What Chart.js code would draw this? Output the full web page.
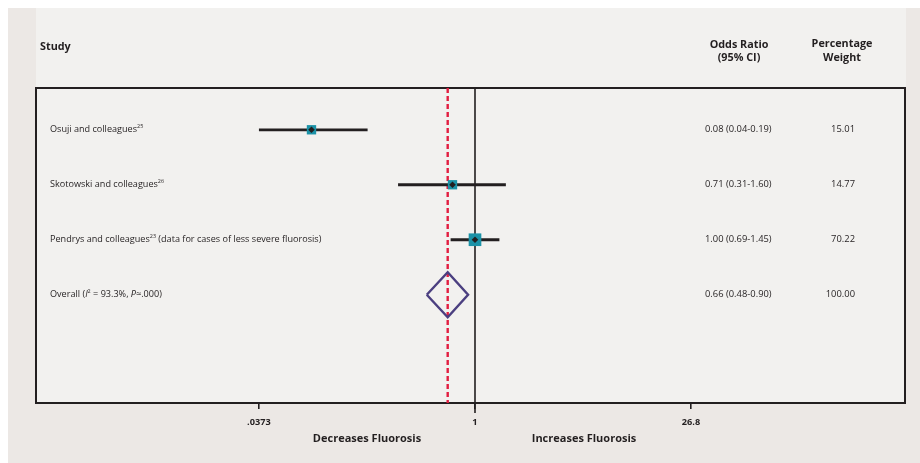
<!DOCTYPE html>
<html>
<head>
<meta charset="utf-8">
<script src="https://cdn.jsdelivr.net/npm/chart.js@4.4.1/dist/chart.umd.min.js"></script>
<style>
  html, body { margin: 0; padding: 0; background: #ffffff; }
  #wrap { width: 920px; height: 463px; }
</style>
</head>
<body>
<div id="wrap"><canvas id="chart" width="920" height="463"></canvas></div>
<script>
// study rows, top to bottom
const studies = ["Osuji and colleagues", "Skotowski and colleagues", "Pendrys and colleagues"];
const studyRefs = ["25", "26", "23"];
const studyNotes = ["", "", " (data for cases of less severe fluorosis)"];
const oddsRatio = [0.083, 0.71, 1.0];
const ciLow = [0.0373, 0.31, 0.69];
const ciHigh = [0.195, 1.6, 1.45];
const orText = ["0.08 (0.04-0.19)", "0.71 (0.31-1.60)", "1.00 (0.69-1.45)"];
const weights = ["15.01", "14.77", "70.22"];

// pooled estimate
const overallOR = 0.66;
const overallLow = 0.48;
const overallHigh = 0.9;
const overallText = "0.66 (0.48-0.90)";
const overallWeight = "100.00";

// x axis ticks
const tickValues = [0.0373, 1, 26.8];
const tickLabels = [".0373", "1", "26.8"];

const INK = "#231f20";
const FONT = "'Open Sans', 'Noto Sans', sans-serif";
const overallRow = studies.length;
const yTop = -0.76, yBottom = 4.97;

const datasets = [];

// black dot in the middle of each square
datasets.push({
  type: "scatter",
  data: oddsRatio.map((v, i) => ({ x: v, y: i })),
  pointStyle: "rectRot",
  pointRadius: 3.3,
  backgroundColor: INK,
  borderWidth: 0,
  order: 0
});

// weighted squares
datasets.push({
  type: "scatter",
  data: oddsRatio.map((v, i) => ({ x: v, y: i })),
  pointStyle: "rect",
  pointRadius: weights.map(w => 4.6 + Math.sqrt(parseFloat(w)) * 0.52),
  backgroundColor: "#1b92a7",
  borderWidth: 0,
  order: 1
});

// confidence intervals
studies.forEach((s, i) => {
  datasets.push({
    type: "line",
    data: [{ x: ciLow[i], y: i }, { x: ciHigh[i], y: i }],
    borderColor: INK,
    borderWidth: 2.8,
    pointRadius: 0,
    order: 2
  });
});

// pooled diamond
datasets.push({
  type: "line",
  data: [
    { x: overallLow, y: overallRow },
    { x: overallOR, y: overallRow - 0.41 },
    { x: overallHigh, y: overallRow },
    { x: overallOR, y: overallRow + 0.41 },
    { x: overallLow, y: overallRow }
  ],
  borderColor: "#4b3f80",
  borderWidth: 2.4,
  pointRadius: 0,
  fill: false,
  order: 3
});

// line of no effect
datasets.push({
  type: "line",
  data: [{ x: 1, y: yTop }, { x: 1, y: yBottom + 0.18 }],
  borderColor: INK,
  borderWidth: 1.6,
  pointRadius: 0,
  clip: false,
  order: 5
});

// pooled estimate line (dashed)
datasets.push({
  type: "line",
  data: [{ x: overallOR, y: yTop }, { x: overallOR, y: yBottom }],
  borderColor: "#e21d40",
  borderWidth: 2.4,
  borderDash: [5, 3],
  pointRadius: 0,
  order: 4
});

function drawParts(ctx, parts, x, y, size) {
  ctx.textBaseline = "middle";
  ctx.textAlign = "left";
  parts.forEach(p => {
    if (p.sup) {
      ctx.font = (size * 0.6) + "px " + FONT;
      ctx.fillText(p.t, x, y - size * 0.38);
    } else {
      ctx.font = (p.it ? "italic " : "") + size + "px " + FONT;
      ctx.fillText(p.t, x, y);
    }
    x += ctx.measureText(p.t).width;
  });
}

const backdrop = {
  id: "backdrop",
  beforeDraw(chart) {
    const { ctx, chartArea } = chart;
    ctx.save();
    ctx.fillStyle = "#ffffff";
    ctx.fillRect(0, 0, chart.width, chart.height);
    ctx.fillStyle = "#ece8e5";
    ctx.fillRect(8, 8, chart.width - 8, chart.height - 8);
    ctx.fillStyle = "#f2f1ef";
    ctx.fillRect(chartArea.left, 8, chartArea.right - chartArea.left + 1, chartArea.bottom - 8);
    ctx.restore();
  },
  beforeDatasetsDraw(chart) {
    const { ctx, chartArea } = chart;
    ctx.save();
    ctx.strokeStyle = INK;
    ctx.lineWidth = 2;
    ctx.strokeRect(chartArea.left, chartArea.top, chartArea.right - chartArea.left, chartArea.bottom - chartArea.top);
    ctx.restore();
  },
  afterDraw(chart) {
    const { ctx, chartArea } = chart;
    const xs = chart.scales.x, ys = chart.scales.y;
    ctx.save();
    ctx.fillStyle = INK;

    // headers
    ctx.font = "bold 10.8px " + FONT;
    ctx.textBaseline = "middle";
    ctx.textAlign = "left";
    ctx.fillText("Study", chartArea.left + 4, 47);
    ctx.textAlign = "center";
    ctx.fillText("Odds Ratio", 739, 45);
    ctx.fillText("(95% CI)", 739, 58);
    ctx.fillText("Percentage", 842, 44);
    ctx.fillText("Weight", 842, 58);

    // rows
    const textX = chartArea.left + 14;
    const numFont = "9.4px " + FONT;
    studies.forEach((s, i) => {
      const y = ys.getPixelForValue(i);
      drawParts(ctx, [{ t: s }, { t: studyRefs[i], sup: true }, { t: studyNotes[i] }], textX, y, 9.1);
      ctx.font = numFont;
      ctx.textAlign = "left";
      ctx.fillText(orText[i], 705, y);
      ctx.textAlign = "right";
      ctx.fillText(weights[i], 855, y);
    });
    const yo = ys.getPixelForValue(overallRow);
    drawParts(ctx, [
      { t: "Overall (" }, { t: "I", it: true }, { t: "2", sup: true },
      { t: " = 93.3%, " }, { t: "P", it: true }, { t: "\u2248.000)" }
    ], textX, yo, 9.1);
    ctx.font = numFont;
    ctx.textAlign = "left";
    ctx.fillText(overallText, 705, yo);
    ctx.textAlign = "right";
    ctx.fillText(overallWeight, 855, yo);

    // axis captions
    const x1 = xs.getPixelForValue(1);
    ctx.font = "bold 11px " + FONT;
    ctx.textAlign = "center";
    ctx.fillText("Decreases Fluorosis", x1 - 108, 439);
    ctx.fillText("Increases Fluorosis", x1 + 109, 439);
    ctx.restore();
  }
};

new Chart(document.getElementById("chart"), {
  type: "scatter",
  data: { datasets },
  options: {
    responsive: false,
    animation: false,
    layout: { padding: { left: 36, right: 15, top: 88, bottom: 0 } },
    plugins: { legend: { display: false }, tooltip: { enabled: false } },
    scales: {
      x: {
        type: "logarithmic",
        min: 0.001253,
        max: 696,
        afterBuildTicks: (scale) => { scale.ticks = tickValues.map(v => ({ value: v })); },
        afterFit: (scale) => { scale.height = 60; },
        border: { display: false },
        grid: { drawOnChartArea: false, drawTicks: true, tickLength: 6, color: INK, lineWidth: 1.6 },
        ticks: {
          autoSkip: false,
          maxRotation: 0,
          padding: 8,
          color: INK,
          font: { family: FONT, size: 9.2, weight: "bold" },
          callback: (v, i) => tickLabels[i]
        }
      },
      y: {
        type: "linear",
        reverse: true,
        min: yTop,
        max: yBottom,
        display: false
      }
    }
  },
  plugins: [backdrop]
});
</script>
</body>
</html>
